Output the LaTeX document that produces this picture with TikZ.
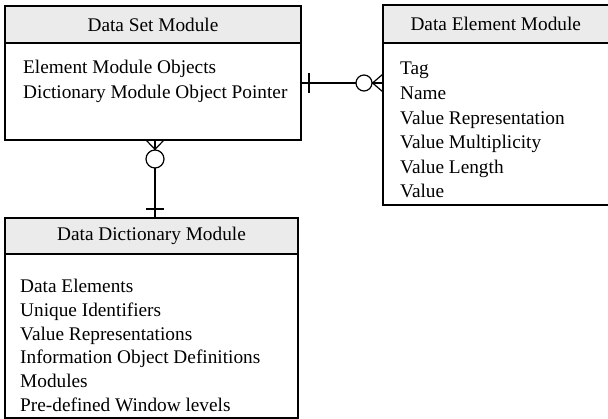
\documentclass[tikz,border=0pt]{standalone}
\usepackage{fontspec}
\setmainfont{Liberation Serif}
\usetikzlibrary{positioning,calc}
\tikzset{
    header/.style={
      rectangle,
      draw=black,
      fill=black!8,
      line width=1.1pt,
      outer sep=0pt,
      inner sep=0pt,
      font=\fontsize{19.3}{23.5}\selectfont
    },
    body/.style={
      rectangle,
      draw=black,
      line width=1.1pt,
      outer sep=0pt,
      inner sep=0pt
    },
    item/.style={
      inner sep=0pt,
      anchor=base west,
      font=\fontsize{19.3}{23.5}\selectfont
    },
    link/.style={line width=1.2pt},
    ring/.style={circle,draw=black,fill=white,line width=1.2pt,inner sep=0pt},
}

\begin{document}
\begin{tikzpicture}[x=1pt,y=-1pt]
    \useasboundingbox (0,0) rectangle (608,419);

    % modules
    \node[header,minimum width=296pt,minimum height=37pt] (dsHead) at (153,24.5) {Data Set Module};
    \node[body,minimum width=296pt,minimum height=97pt,below=0pt of dsHead] (dsBody) {};

    \node[header,minimum width=225.5pt,minimum height=38pt] (deHead) at (495.75,24) {Data Element Module};
    \node[body,minimum width=225.5pt,minimum height=162pt,below=0pt of deHead] (deBody) {};

    \node[header,minimum width=293pt,minimum height=36pt] (ddHead) at (151.5,236) {Data Dictionary Module};
    \node[body,minimum width=293pt,minimum height=164pt,below=0pt of ddHead] (ddBody) {};

    % attributes
    \foreach \txt [count=\i] in {Element Module Objects,Dictionary Module Object Pointer}
      \node[item] (ds-\i) at ($(dsBody.north west)+(18,31+24.6*\i-24.6)$) {\txt};
    \foreach \txt [count=\i] in {Tag,Name,Value Representation,Value Multiplicity,Value Length,Value}
      \node[item] (de-\i) at ($(deBody.north west)+(17,32+24.6*\i-24.6)$) {\txt};
    \foreach \txt [count=\i] in {Data Elements,Unique Identifiers,Value Representations,Information Object Definitions,Modules,Pre-defined Window levels}
      \node[item] (dd-\i) at ($(ddBody.north west)+(15,38.5+23.8*\i-23.8)$) {\txt};

    % data set -- data element
    \coordinate (dsR) at ($(dsBody.north east)+(0,40)$);
    \coordinate (deL) at (deBody.west |- dsR);
    \draw[link] (dsR) -- (deL);
    \draw[link] ($(dsR)+(8,-10)$) -- ($(dsR)+(8,10)$);
    \node[ring,minimum size=16pt] (o1) at ($(deL)+(-19,0)$) {};
    \draw[link] (o1.east) -- ($(deL)+(0,-9)$);
    \draw[link] (o1.east) -- ($(deL)+(0,9)$);

    % data set -- dictionary
    \coordinate (dsB) at ($(dsBody.south)+(2,0)$);
    \coordinate (ddT) at (ddHead.north -| dsB);
    \draw[link] (dsB) -- (ddT);
    \draw[link] ($(ddT)+(-9,-9)$) -- ($(ddT)+(9,-9)$);
    \node[ring,minimum size=18pt] (o2) at ($(dsB)+(0,19)$) {};
    \draw[link] (o2.north) -- ($(dsB)+(-9,0)$);
    \draw[link] (o2.north) -- ($(dsB)+(9,0)$);
\end{tikzpicture}
\end{document}
